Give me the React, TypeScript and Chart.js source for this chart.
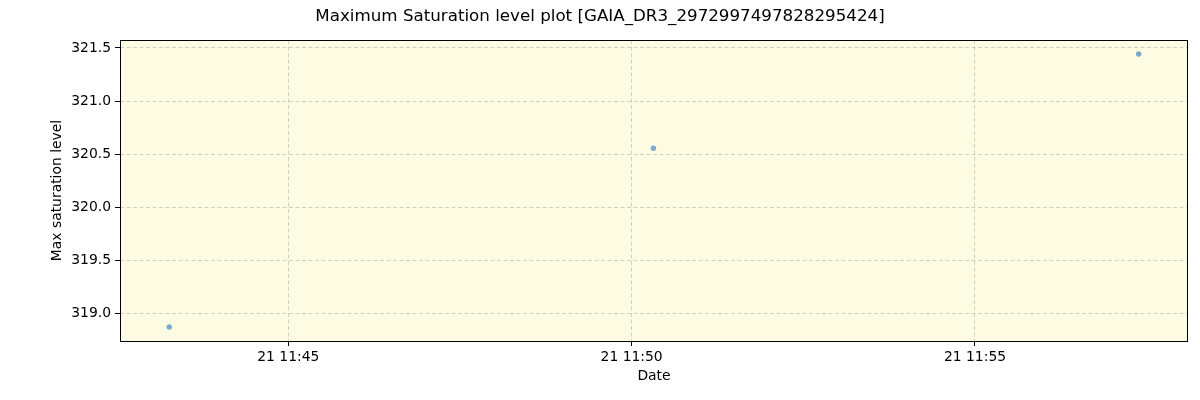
import React, { useEffect, useRef } from "react";
import { Chart, registerables } from "chart.js";

Chart.register(...registerables);

const TITLE = "Maximum Saturation level plot [GAIA_DR3_2972997497828295424]";
const X_LABEL = "Date";
const Y_LABEL = "Max saturation level";
const obsTimes = ["11:43:16", "11:50:19", "11:57:23"];
const maxSat = [318.877, 320.557, 321.443];
const xTickMinutes = [45, 50, 55];
const xTickLabels = ["21 11:45", "21 11:50", "21 11:55"];
const yTicks = [319.0, 319.5, 320.0, 320.5, 321.0, 321.5];
const xRange = [42.549, 58.102];
const yRange = [318.745, 321.575];

const toMinutes = (t: string) => {
  const [h, m, s] = t.split(":").map(Number);
  return (h - 11) * 60 + m + s / 60;
};

const FONT = "'DejaVu Sans', sans-serif";
const FS = 13.9;

export default function App() {
  const ref = useRef<HTMLCanvasElement>(null);
  useEffect(() => {
    document.body.style.margin = "0";
    const bgPlugin = {
      id: "bg",
      beforeDraw(chart: any) {
        const { ctx, chartArea: a } = chart;
        ctx.save();
        ctx.fillStyle = "#fdfce3";
        ctx.fillRect(a.left, a.top, a.right - a.left, a.bottom - a.top);
        ctx.restore();
      },
      afterDraw(chart: any) {
        const { ctx, chartArea: a } = chart;
        ctx.save();
        ctx.strokeStyle = "#000";
        ctx.lineWidth = 1;
        ctx.strokeRect(a.left + 0.5, a.top + 0.5, a.right - a.left - 1, a.bottom - a.top);
        ctx.fillStyle = "#000";
        ctx.textAlign = "center";
        ctx.textBaseline = "middle";
        ctx.font = `16.7px ${FONT}`;
        ctx.fillText(TITLE, 600, 17);
        ctx.font = `${FS}px ${FONT}`;
        ctx.fillText(X_LABEL, (a.left + a.right) / 2, 376);
        ctx.translate(57, (a.top + a.bottom) / 2);
        ctx.rotate(-Math.PI / 2);
        ctx.fillText(Y_LABEL, 0, 0);
        ctx.restore();
      },
    };
    const chart = new Chart(ref.current!, {
      type: "scatter",
      data: {
        datasets: [
          {
            data: obsTimes.map((t, i) => ({ x: toMinutes(t), y: maxSat[i] })),
            backgroundColor: "rgba(31,119,180,0.6)",
            borderColor: "rgba(31,119,180,0.6)",
            borderWidth: 0,
            pointRadius: 2.7,
          },
        ],
      },
      options: {
        responsive: false,
        animation: false,
        layout: { padding: { left: 0, top: 40, right: 12, bottom: 0 } },
        plugins: {
          legend: { display: false },
          tooltip: { enabled: false },
          title: { display: false },
        },
        scales: {
          x: {
            type: "linear",
            min: xRange[0],
            max: xRange[1],
            afterBuildTicks: (s: any) => {
              s.ticks = xTickMinutes.map((v) => ({ value: v }));
            },
            afterFit: (s: any) => {
              s.height = 59;
            },
            ticks: {
              autoSkip: false,
              maxRotation: 0,
              padding: 3,
              color: "#000",
              font: { family: FONT, size: FS },
              callback: (v: any) => xTickLabels[xTickMinutes.indexOf(Number(v))] ?? "",
            },
            grid: {
              color: "rgba(176,176,176,0.6)",
              tickColor: "#000",
              tickLength: 5,
            },
            border: { display: false, dash: [4, 2.5] },
          },
          y: {
            type: "linear",
            min: yRange[0],
            max: yRange[1],
            afterBuildTicks: (s: any) => {
              s.ticks = yTicks.map((v) => ({ value: v }));
            },
            afterFit: (s: any) => {
              s.width = 120;
            },
            ticks: {
              autoSkip: false,
              padding: 4,
              color: "#000",
              font: { family: FONT, size: FS },
              callback: (v: any) => Number(v).toFixed(1),
            },
            grid: {
              color: "rgba(176,176,176,0.6)",
              tickColor: "#000",
              tickLength: 5,
            },
            border: { display: false, dash: [4, 2.5] },
          },
        },
      },
      plugins: [bgPlugin],
    });
    return () => chart.destroy();
  }, []);
  return (
    <div style={{ width: 1200, height: 400 }}>
      <canvas ref={ref} width={1200} height={400} style={{ width: 1200, height: 400 }} />
    </div>
  );
}
